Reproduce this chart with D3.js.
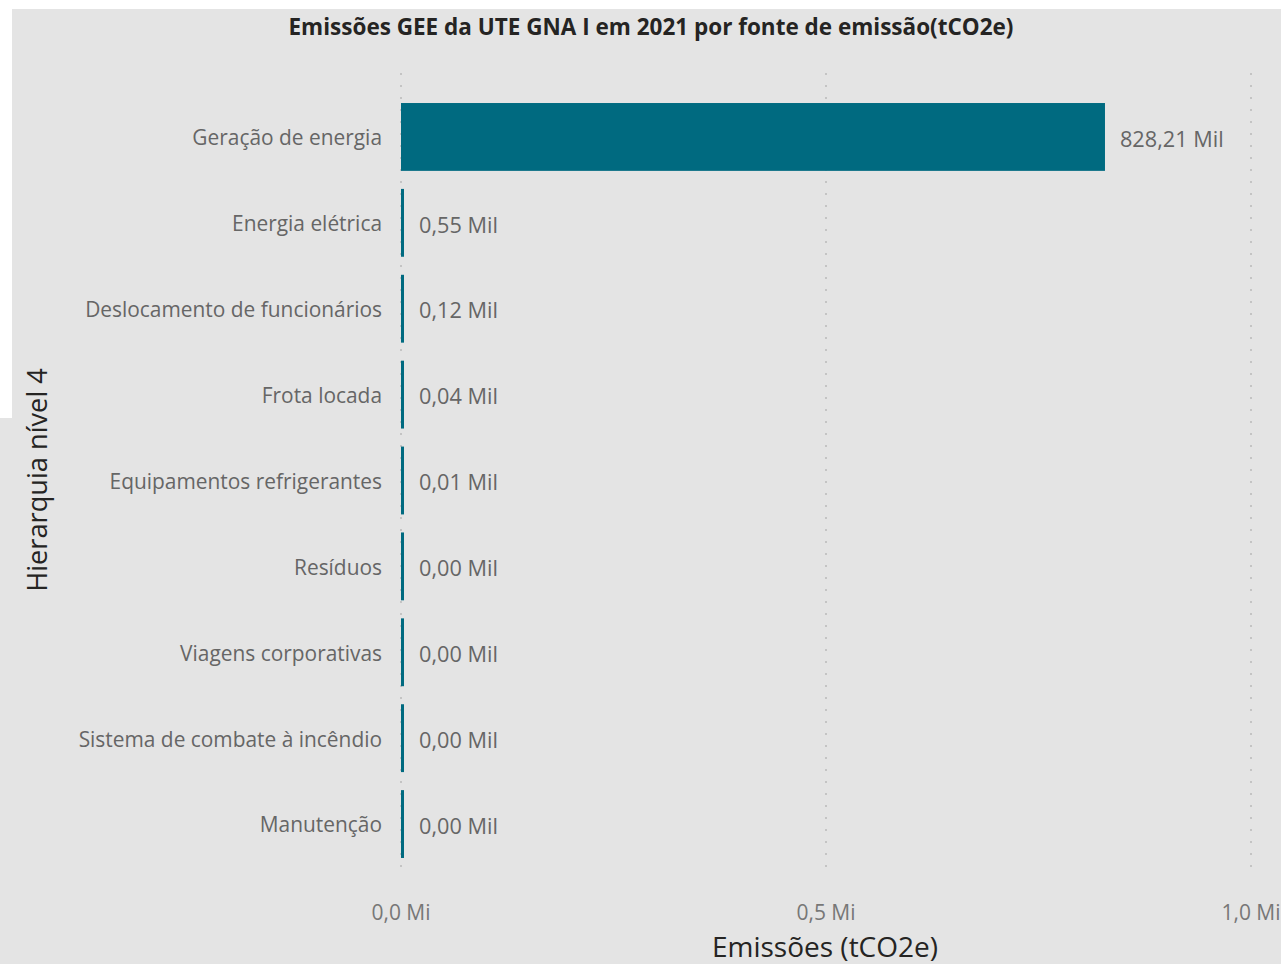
<!DOCTYPE html>
<html><head><meta charset="utf-8">
<script src="https://cdn.jsdelivr.net/npm/d3@7"></script>
<style>
html,body{margin:0;padding:0;background:#fff;}
svg{display:block;}
</style></head>
<body>
<svg id="chart" width="1281" height="964"></svg>
<script>
const categories = ["Geração de energia","Energia elétrica","Deslocamento de funcionários","Frota locada","Equipamentos refrigerantes","Resíduos","Viagens corporativas","Sistema de combate à incêndio","Manutenção"];
const values = [828210, 550, 120, 40, 10, 2, 1, 0.5, 0.2]; // tCO2e
const tickValues = [0, 500000, 1000000];
const tickLabels = ["0,0 Mi","0,5 Mi","1,0 Mi"];
const title = "Emissões GEE da UTE GNA I em 2021 por fonte de emissão(tCO2e)";
const xTitle = "Emissões (tCO2e)";
const yTitle = "Hierarquia nível 4";

const W = 1281, H = 964;
const font = "'Open Sans', 'Noto Sans', sans-serif";
const svg = d3.select("#chart");

// background
svg.append("rect").attr("x",0).attr("y",0).attr("width",W).attr("height",H).attr("fill","#fff");
svg.append("rect").attr("x",12).attr("y",9).attr("width",W-12).attr("height",H-9).attr("fill","#e4e4e4");
svg.append("rect").attr("x",0).attr("y",418).attr("width",12).attr("height",H-418).attr("fill","#e4e4e4");

const x = d3.scaleLinear().domain([0,1000000]).range([401,1251]);
const y = d3.scaleBand().domain(categories).range([94,867]).paddingInner(0.21).paddingOuter(0.105);

// gridlines
svg.append("g").selectAll("line").data(tickValues).join("line")
  .attr("x1",d=>x(d)).attr("x2",d=>x(d)).attr("y1",73).attr("y2",870)
  .attr("stroke","#c4c4c4").attr("stroke-width",2).attr("stroke-dasharray","2,10");

// x tick labels
svg.append("g").selectAll("text").data(tickValues).join("text")
  .attr("x",d=>x(d)).attr("y",920).attr("text-anchor","middle")
  .attr("font-family",font).attr("font-size",21).attr("fill","#777")
  .text((d,i)=>tickLabels[i]);

// bars
const minW = 3;
svg.append("g").selectAll("rect").data(categories).join("rect")
  .attr("x",x(0)).attr("y",d=>y(d))
  .attr("width",(d,i)=>Math.max(x(values[i])-x(0),minW))
  .attr("height",y.bandwidth()).attr("fill","#006a80");

// data labels
const fmt = v => (v/1000).toFixed(2).replace(".",",") + " Mil";
svg.append("g").selectAll("text").data(categories).join("text")
  .attr("x",(d,i)=>x(0)+Math.max(x(values[i])-x(0),minW)+15)
  .attr("y",d=>y(d)+y.bandwidth()/2).attr("dy","0.45em")
  .attr("font-family",font).attr("font-size",21.7).attr("fill","#666")
  .text((d,i)=>fmt(values[i]));

// category labels
svg.append("g").selectAll("text").data(categories).join("text")
  .attr("x",382).attr("y",d=>y(d)+y.bandwidth()/2).attr("dy","0.4em")
  .attr("text-anchor","end")
  .attr("font-family",font).attr("font-size",20.9).attr("fill","#666")
  .text(d=>d);

// title
svg.append("text").attr("x",651).attr("y",35).attr("text-anchor","middle")
  .attr("font-family",font).attr("font-size",22.5).attr("font-weight","bold").attr("fill","#252423")
  .text(title);

// axis titles
svg.append("text").attr("x",825).attr("y",957).attr("text-anchor","middle")
  .attr("font-family",font).attr("font-size",28).attr("fill","#252423").text(xTitle);
svg.append("text").attr("transform","translate(47,480) rotate(-90)").attr("text-anchor","middle")
  .attr("font-family",font).attr("font-size",27.2).attr("fill","#252423").text(yTitle);
</script>
</body></html>
